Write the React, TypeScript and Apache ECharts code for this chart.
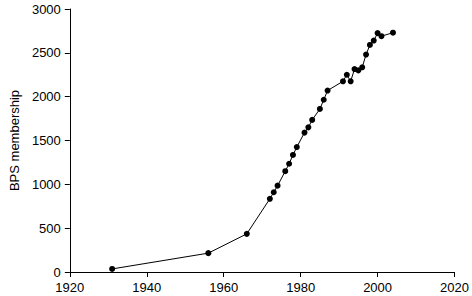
import React, { useEffect, useRef } from "react";
import * as echarts from "echarts";

const years = [1931, 1956, 1966, 1972, 1973, 1974, 1976, 1977, 1978, 1979, 1981, 1982, 1983, 1985, 1986, 1987, 1991, 1992, 1993, 1994, 1995, 1996, 1997, 1998, 1999, 2000, 2001, 2004];
const members = [35, 215, 435, 835, 910, 985, 1150, 1235, 1335, 1425, 1590, 1650, 1735, 1860, 1965, 2070, 2175, 2250, 2175, 2315, 2300, 2335, 2480, 2590, 2640, 2725, 2690, 2730];
const yAxisTitle = "BPS membership";

export default function App() {
  const ref = useRef<HTMLDivElement>(null);
  useEffect(() => {
    const chart = echarts.init(ref.current!, null, { renderer: "svg" });
    const font = "Liberation Sans, Arial, Helvetica, sans-serif";
    const fmt = (v: number) => String(v);
    chart.setOption({
      animation: false,
      backgroundColor: "#fff",
      grid: { left: 62, right: 16, top: 9, bottom: 24, containLabel: false },
      xAxis: {
        type: "value",
        min: 1920,
        max: 2020,
        interval: 20,
        axisLine: { show: true, onZero: false, lineStyle: { color: "#000", width: 1 } },
        axisTick: { show: true, length: 5, lineStyle: { color: "#000" } },
        axisLabel: { color: "#000", fontSize: 13, fontFamily: font, margin: 9, formatter: fmt },
        splitLine: { show: false },
      },
      yAxis: {
        type: "value",
        min: 0,
        max: 3000,
        interval: 500,
        name: yAxisTitle,
        nameLocation: "middle",
        nameGap: 47,
        nameTextStyle: { color: "#000", fontSize: 13, fontFamily: font },
        axisLine: { show: true, lineStyle: { color: "#000", width: 1 } },
        axisTick: { show: true, length: 5, lineStyle: { color: "#000" } },
        axisLabel: { color: "#000", fontSize: 13, fontFamily: font, margin: 9, formatter: fmt },
        splitLine: { show: false },
      },
      series: [
        {
          type: "line",
          data: years.map((y, i) => [y, members[i]]),
          symbol: "circle",
          symbolSize: 6,
          itemStyle: { color: "#000" },
          lineStyle: { color: "#000", width: 1 },
        },
      ],
    });
    return () => chart.dispose();
  }, []);
  return <div ref={ref} style={{ width: 472, height: 296, position: "absolute", left: 0, top: 0 }} />;
}
